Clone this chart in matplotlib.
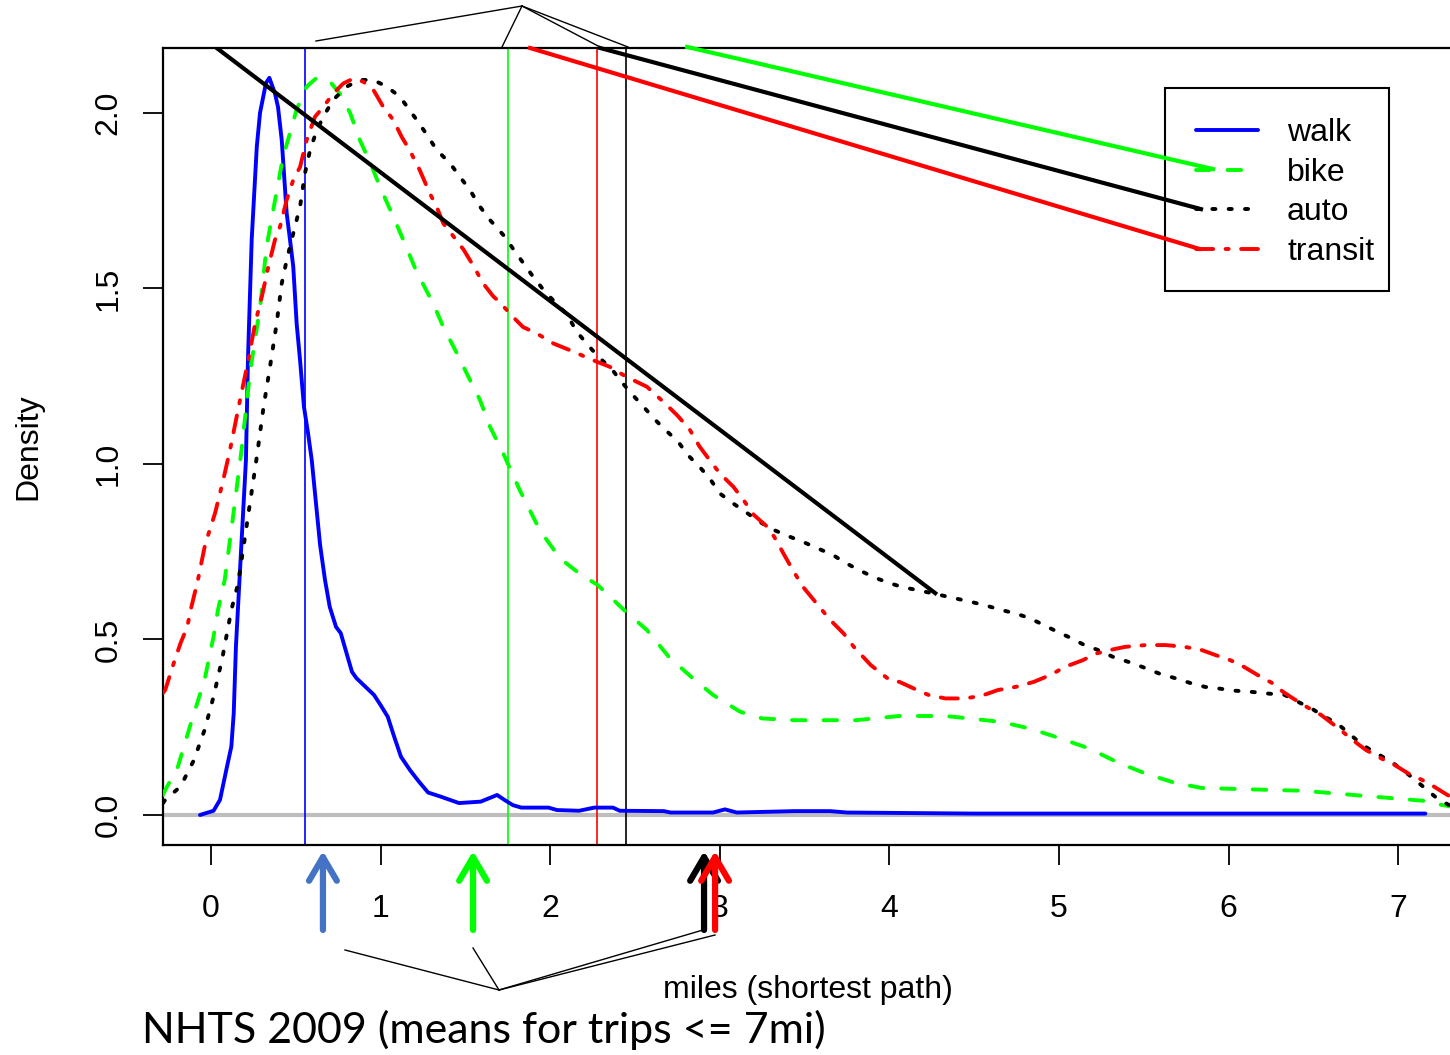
import matplotlib
matplotlib.use("Agg")
import matplotlib.pyplot as plt
from matplotlib.lines import Line2D
from matplotlib.patches import Rectangle

# ---- data ------------------------------------------------------------------
modes = ["walk", "bike", "auto", "transit"]

walk_x = [-0.065, 0.015, 0.053, 0.094, 0.12, 0.134, 0.147, 0.168, 0.206, 0.218,
          0.24, 0.27, 0.289, 0.324, 0.344, 0.377, 0.395, 0.417, 0.43, 0.446,
          0.466, 0.485, 0.505, 0.525, 0.548, 0.572, 0.594, 0.643, 0.672, 0.70,
          0.737, 0.765, 0.831, 0.857, 0.961, 1.0, 1.042, 1.08, 1.12, 1.173,
          1.226, 1.28, 1.356, 1.462, 1.59, 1.687, 1.73, 1.78, 1.83, 1.99,
          2.04, 2.17, 2.26, 2.37, 2.41, 2.67, 2.71, 2.96, 3.03, 3.10,
          3.44, 3.54, 3.65, 3.75, 4.5, 5.5, 6.5, 7.16]
walk_y = [0.0, 0.012, 0.043, 0.137, 0.195, 0.29, 0.48, 0.67, 1.011, 1.30,
          1.64, 1.904, 2.0, 2.085, 2.10, 2.056, 2.017, 1.923, 1.83, 1.715,
          1.638, 1.562, 1.40, 1.296, 1.163, 1.088, 1.011, 0.77, 0.67, 0.593,
          0.536, 0.518, 0.408, 0.39, 0.342, 0.313, 0.28, 0.223, 0.166, 0.128,
          0.095, 0.064, 0.052, 0.034, 0.038, 0.057, 0.043, 0.028, 0.021, 0.021,
          0.014, 0.012, 0.021, 0.021, 0.012, 0.011, 0.007, 0.007, 0.016, 0.007,
          0.011, 0.011, 0.011, 0.007, 0.004, 0.004, 0.004, 0.004]

bike_x = [-0.283, -0.27, -0.195, -0.118, -0.038, 0.015, 0.041, 0.081, 0.13, 0.18,
          0.23, 0.29, 0.328, 0.377, 0.425, 0.476, 0.505, 0.564, 0.623, 0.70,
          0.76, 0.82, 0.88, 0.94, 0.996, 1.075, 1.134, 1.21, 1.31, 1.37,
          1.45, 1.527, 1.586, 1.645, 1.723, 1.82, 1.94, 2.06, 2.18, 2.28,
          2.435, 2.57, 2.70, 2.83, 2.96, 3.12, 3.25, 3.44, 3.80, 4.06,
          4.33, 4.47, 4.66, 4.83, 5.01, 5.18, 5.34, 5.51, 5.68, 5.84,
          6.05, 6.44, 6.81, 7.16, 7.23, 7.36]
bike_y = [0.057, 0.071, 0.138, 0.262, 0.385, 0.508, 0.584, 0.67, 0.85, 1.04,
          1.26, 1.45, 1.62, 1.75, 1.875, 1.96, 2.01, 2.075, 2.10, 2.09,
          2.055, 2.0, 1.92, 1.857, 1.79, 1.704, 1.638, 1.55, 1.457, 1.39,
          1.315, 1.239, 1.182, 1.106, 1.03, 0.926, 0.81, 0.73, 0.685, 0.655,
          0.584, 0.527, 0.45, 0.394, 0.342, 0.294, 0.275, 0.27, 0.27, 0.282,
          0.282, 0.275, 0.265, 0.246, 0.218, 0.189, 0.151, 0.118, 0.092, 0.077,
          0.074, 0.069, 0.054, 0.040, 0.031, 0.02]

auto_x = [-0.283, -0.27, -0.18, -0.10, -0.038, 0.015, 0.068, 0.12, 0.16, 0.215,
          0.27, 0.31, 0.348, 0.387, 0.417, 0.446, 0.485, 0.525, 0.554, 0.584,
          0.623, 0.662, 0.72, 0.80, 0.878, 0.957, 1.036, 1.114, 1.213, 1.27,
          1.33, 1.41, 1.468, 1.527, 1.586, 1.645, 1.724, 1.80, 1.90, 1.97,
          2.10, 2.156, 2.215, 2.284, 2.36, 2.42, 2.48, 2.55, 2.62, 2.69,
          2.755, 2.81, 2.88, 2.94, 3.00, 3.08, 3.15, 3.22, 3.30, 3.39,
          3.49, 3.58, 3.67, 3.73, 3.82, 3.905, 3.98, 4.07, 4.16, 4.26,
          4.36, 4.455, 4.56, 4.66, 4.745, 4.83, 4.91, 4.99, 5.075, 5.15,
          5.23, 5.32, 5.41, 5.49, 5.59, 5.69, 5.78, 5.86, 5.945, 6.04,
          6.13, 6.23, 6.33, 6.41, 6.49, 6.565, 6.64, 6.71, 6.79, 6.875,
          6.96, 7.04, 7.10, 7.17, 7.23, 7.30, 7.36]
auto_y = [0.034, 0.043, 0.081, 0.157, 0.242, 0.337, 0.45, 0.584, 0.66, 0.84,
          1.02, 1.163, 1.277, 1.40, 1.514, 1.58, 1.657, 1.733, 1.828, 1.894,
          1.95, 1.989, 2.037, 2.075, 2.094, 2.094, 2.075, 2.046, 1.98, 1.94,
          1.895, 1.856, 1.818, 1.78, 1.733, 1.695, 1.652, 1.60, 1.533, 1.49,
          1.425, 1.377, 1.343, 1.305, 1.272, 1.234, 1.20, 1.163, 1.125, 1.092,
          1.063, 1.026, 0.992, 0.959, 0.916, 0.887, 0.864, 0.840, 0.816, 0.797,
          0.778, 0.759, 0.74, 0.721, 0.698, 0.678, 0.664, 0.650, 0.641, 0.631,
          0.62, 0.61, 0.598, 0.584, 0.574, 0.56, 0.541, 0.522, 0.503, 0.484,
          0.470, 0.45, 0.436, 0.422, 0.403, 0.389, 0.375, 0.365, 0.36, 0.354,
          0.351, 0.346, 0.342, 0.322, 0.303, 0.28, 0.261, 0.232, 0.199, 0.175,
          0.151, 0.123, 0.10, 0.071, 0.047, 0.028, 0.015]

transit_x = [-0.283, -0.27, -0.22, -0.18, -0.14, -0.12, -0.077, -0.035, 0.024, 0.07,
             0.112, 0.171, 0.22, 0.26, 0.30, 0.338, 0.377, 0.407, 0.446, 0.485,
             0.525, 0.564, 0.613, 0.662, 0.72, 0.78, 0.84, 0.898, 0.957, 1.016,
             1.075, 1.124, 1.17, 1.23, 1.29, 1.33, 1.37, 1.43, 1.49, 1.55,
             1.605, 1.665, 1.70, 1.78, 1.84, 1.92, 2.02, 2.137, 2.25, 2.35,
             2.45, 2.57, 2.667, 2.746, 2.82, 2.88, 2.94, 3.00, 3.08, 3.14,
             3.20, 3.28, 3.32, 3.375, 3.43, 3.49, 3.57, 3.65, 3.73, 3.79,
             3.89, 4.00, 4.06, 4.145, 4.23, 4.33, 4.44, 4.54, 4.64, 4.745,
             4.85, 4.95, 5.035, 5.14, 5.22, 5.30, 5.39, 5.51, 5.63, 5.74,
             5.84, 5.92, 6.01, 6.09, 6.17, 6.26, 6.32, 6.38, 6.46, 6.545,
             6.65, 6.73, 6.81, 6.90, 6.98, 7.06, 7.14, 7.21, 7.29, 7.36]
transit_y = [0.348, 0.356, 0.432, 0.489, 0.536, 0.584, 0.67, 0.77, 0.86, 0.95,
             1.04, 1.182, 1.296, 1.40, 1.477, 1.562, 1.638, 1.676, 1.752, 1.809,
             1.846, 1.923, 1.989, 2.017, 2.055, 2.084, 2.098, 2.089, 2.066, 2.017,
             1.98, 1.932, 1.895, 1.838, 1.771, 1.733, 1.685, 1.648, 1.61, 1.562,
             1.514, 1.477, 1.462, 1.419, 1.39, 1.372, 1.343, 1.32, 1.296, 1.277,
             1.248, 1.22, 1.177, 1.14, 1.10, 1.05, 1.011, 0.973, 0.935, 0.897,
             0.855, 0.821, 0.793, 0.745, 0.698, 0.65, 0.603, 0.556, 0.517, 0.479,
             0.427, 0.385, 0.379, 0.36, 0.342, 0.332, 0.332, 0.339, 0.356, 0.365,
             0.379, 0.399, 0.422, 0.441, 0.46, 0.47, 0.479, 0.484, 0.484, 0.479,
             0.47, 0.456, 0.441, 0.422, 0.399, 0.375, 0.351, 0.332, 0.308, 0.285,
             0.246, 0.214, 0.185, 0.161, 0.142, 0.118, 0.10, 0.081, 0.057, 0.04]

# vertical reference lines (walk, bike, auto, transit) and mean arrows, in miles
vline_pos = [0.554, 1.751, 2.447, 2.276]
mean_pos = [0.660, 1.545, 2.907, 2.972]

x_ticks = [0, 1, 2, 3, 4, 5, 6, 7]
y_ticks = [0.0, 0.5, 1.0, 1.5, 2.0]

# ---- styles ------------------------------------------------------------------
colors = {"walk": "#0000FF", "bike": "#00FF00", "auto": "#000000", "transit": "#FF0000"}
arrow_colors = ["#4472C4", "#00FF00", "#000000", "#FF0000"]
styles = {"walk": "-", "bike": (0, (3.5, 4.6)), "auto": (0, (0.8, 3.4)),
          "transit": (0, (4.4, 3.2, 0.8, 3.2))}
series = {"walk": (walk_x, walk_y), "bike": (bike_x, bike_y),
          "auto": (auto_x, auto_y), "transit": (transit_x, transit_y)}

plt.rcParams["font.family"] = ["Liberation Sans", "DejaVu Sans"]
FS = 23
W, H = 1450, 1055


def fig_xy(px, py):
    return px / W, 1 - py / H


fig = plt.figure(figsize=(14.5, 10.55), dpi=100)
ax = fig.add_axes([163 / W, 1 - 845 / H, 1297 / W, 797 / H])
ax.set_xlim(-0.283, 7.364)
ax.set_ylim(-0.0855, 2.185)

ax.axhline(0, color="#BEBEBE", lw=3, zorder=1)
for m in modes:
    xs, ys = series[m]
    ax.plot(xs, ys, color=colors[m], linestyle=styles[m], lw=2.8,
            dash_capstyle="round", solid_capstyle="round", zorder=3)

for x, m in zip(vline_pos, modes):
    ax.axvline(x, color=colors[m], lw=1.2, zorder=2)

# straight black line drawn over the plot
ax.plot([0.02, 4.27], [2.19, 0.632], color="black", lw=3, zorder=4)

for s in ax.spines.values():
    s.set_linewidth(1.6)
ax.set_xticks(x_ticks)
ax.set_xticklabels([str(t) for t in x_ticks])
ax.set_yticks(y_ticks)
ax.set_yticklabels([f"{t:.1f}" for t in y_ticks])
ax.tick_params(direction="out", length=14.4, width=1.3, labelsize=FS)
ax.tick_params(axis="x", pad=21)
ax.tick_params(axis="y", pad=14)
plt.setp(ax.get_yticklabels(), rotation=90, va="center")

# legend, drawn by hand to match the R box
lx0, ly0, lx1, ly1 = 1165, 88, 1389, 291
fig.add_artist(Rectangle(fig_xy(lx0, ly1), (lx1 - lx0) / W, (ly1 - ly0) / H,
                         transform=fig.transFigure, facecolor="white",
                         edgecolor="black", lw=1.5, zorder=2))
for i, m in enumerate(modes):
    ry = 130 + i * 39.7
    xa, ya = fig_xy(1196, ry)
    xb, _ = fig_xy(1258, ry)
    fig.add_artist(Line2D([xa, xb], [ya, ya], transform=fig.transFigure,
                          color=colors[m], linestyle=styles[m], lw=2.8,
                          dash_capstyle="round", solid_capstyle="round", zorder=3))
    tx, ty = fig_xy(1287, ry + 3)
    fig.text(tx, ty, m, fontsize=FS, va="center", ha="left", zorder=3)

# legend-leader lines, above the legend box
for (x0, y0, x1, y1, c) in [(1.881, 2.185, 5.825, 1.613, "#FF0000"),
                            (2.294, 2.185, 5.837, 1.726, "black"),
                            (2.807, 2.188, 5.908, 1.840, "#00FF00")]:
    ln = Line2D([x0, x1], [y0, y1], color=c, lw=3, transform=ax.transData, zorder=5)
    fig.add_artist(ln)

# mean arrows under the axis
trans = ax.get_xaxis_transform()
for x, c in zip(mean_pos, arrow_colors):
    ax.annotate("", xy=(x, -0.0075), xytext=(x, -0.1066), xycoords=trans,
                textcoords=trans, annotation_clip=False,
                arrowprops=dict(arrowstyle="->,head_length=0.85,head_width=0.5",
                                color=c, lw=4.5, mutation_scale=20,
                                shrinkA=0, shrinkB=0))

# thin bracket lines
top_hub = (522, 6)
top_ends = [(316, 41), (502, 47), (600, 47), (628, 47)]
bot_hub = (499, 990)
bot_ends = [(345, 950), (473, 948), (703, 930), (715, 935)]
for hub, ends in [(top_hub, top_ends), (bot_hub, bot_ends)]:
    for e in ends:
        a = fig_xy(*hub)
        b = fig_xy(*e)
        fig.add_artist(Line2D([a[0], b[0]], [a[1], b[1]], color="black", lw=1.0,
                              transform=fig.transFigure))

fig.text(*fig_xy(28, 447), "Density", rotation=90, fontsize=FS, ha="center", va="center")
fig.text(*fig_xy(808, 990), "miles (shortest path)", fontsize=FS, ha="center", va="center")
fig.text(*fig_xy(142, 1030), "NHTS 2009 (means for trips <= 7mi)", fontsize=31,
         family=["Lato", "DejaVu Sans"], ha="left", va="center")

fig.savefig("out.png", dpi=100)
